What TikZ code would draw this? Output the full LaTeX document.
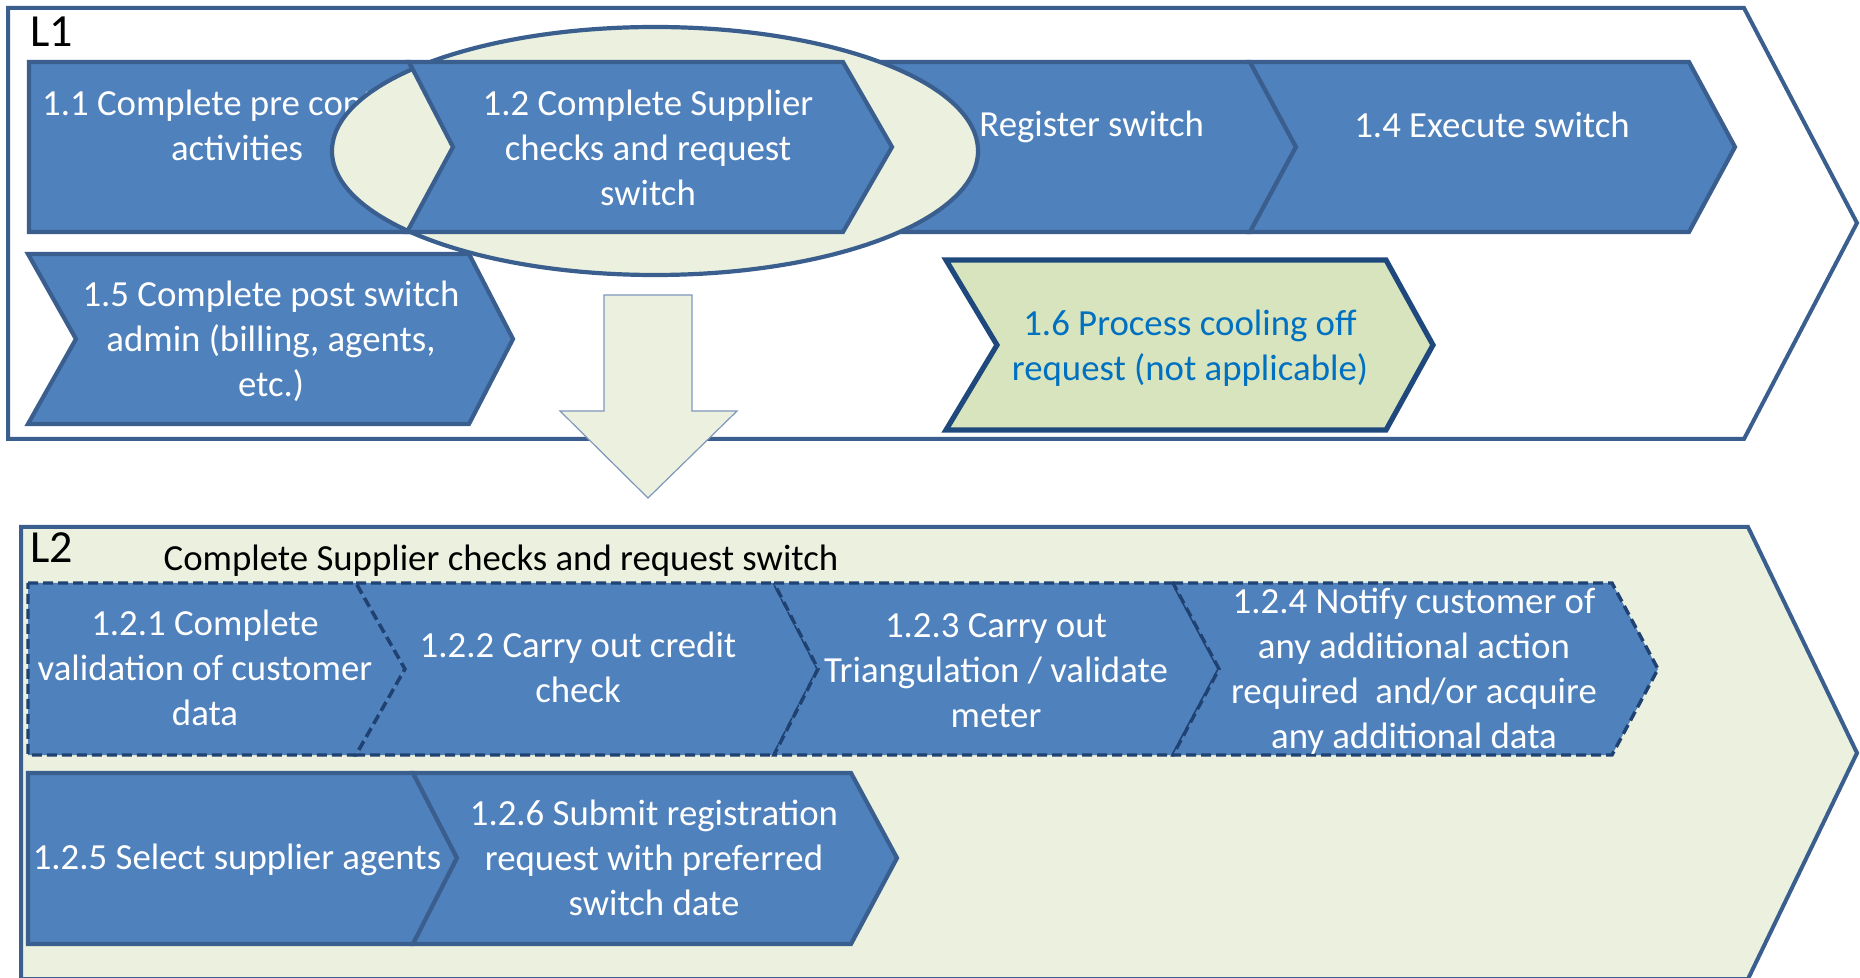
\documentclass[tikz,border=0pt]{standalone}
\usepackage{fontspec}
\setmainfont{Carlito}
\definecolor{blueFill}{HTML}{4F81BD}
\definecolor{blueLine}{HTML}{3A5F8E}
\definecolor{paleGreen}{HTML}{EBF1DE}
\definecolor{greenFill}{HTML}{D7E4BD}
\definecolor{navy}{HTML}{1F497D}
\definecolor{dashNavy}{HTML}{1F4272}
\definecolor{textBlue}{HTML}{0070C0}
\definecolor{arrowLine}{HTML}{7F97BD}
\newcommand\fl{\rule{0pt}{14.7pt}}
\begin{document}
\begin{tikzpicture}[x=0.5pt,y=-0.5pt,
  chev/.style={fill=blueFill, draw=blueLine, line width=2.1pt, line join=miter},
  dchev/.style={fill=blueFill, draw=dashNavy, line width=1.7pt, dash pattern=on 5pt off 2.5pt},
  frame/.style={draw=blueLine, line width=2pt, line join=miter},
  lbl/.style={anchor=north, inner sep=0pt, align=center, text=white, font=\fontsize{18.4}{22.5}\selectfont},
  level/.style={anchor=base west, inner sep=0pt, text=black, font=\fontsize{23}{28}\selectfont},
]
\useasboundingbox (0,0) rectangle (1860,978);
\fill[white] (0,0) rectangle (1860,978);

% ---------- L1 frame ----------
\draw[frame, fill=white] (8,8) -- (1744,8) -- (1857,223) -- (1744,439) -- (8,439) -- cycle;
\node[level] (L1) at (30,47) {L1};

% ---------- L2 frame ----------
\draw[frame, fill=paleGreen] (21,527) -- (1748,527) -- (1857,753) -- (1748,979) -- (21,979) -- cycle;
\node[level] (L2) at (30,563) {L2};
\node[anchor=base, inner sep=0pt, font=\fontsize{18.4}{22.5}\selectfont] (head) at (501,571) {Complete Supplier checks and request switch};

% ---------- L1 row 1 (behind ellipse) ----------
\draw[chev] (29,62) -- (409,62) -- (453,147) -- (409,232) -- (29,232) -- cycle;
\node[lbl] (t11) at (237,85.6) {\fl 1.1 Complete pre contract\\activities};
\draw[chev] (843,62) -- (1250,62) -- (1296,147) -- (1250,232) -- (843,232) -- (892,147) -- cycle;
\node[anchor=base west, inner sep=0pt, text=white, font=\fontsize{18.4}{22.5}\selectfont] (t13) at (979,137) {Register switch};
\draw[chev] (1250,62) -- (1689,62) -- (1735,147) -- (1689,232) -- (1250,232) -- (1296,147) -- cycle;
\node[lbl] (t14) at (1492,107.6) {\fl 1.4 Execute switch};

% ---------- L1 row 2 ----------
\draw[chev] (28,254) -- (469,254) -- (513,339) -- (469,424) -- (28,424) -- (76,339) -- cycle;
\node[lbl] (t15) at (271,276.6) {\fl 1.5 Complete post switch\\admin (billing, agents,\\etc.)};
\draw[fill=greenFill, draw=navy, line width=2.6pt, line join=miter] (946,260) -- (1386,260) -- (1433,345) -- (1386,430) -- (946,430) -- (997,345) -- cycle;
\node[lbl, text=textBlue] (t16) at (1190,305.6) {\fl 1.6 Process cooling off\\request (not applicable)};

% ---------- highlight ellipse and 1.2 ----------
\draw[fill=paleGreen, draw=blueLine, line width=2.1pt] (655,151) ellipse [x radius=323, y radius=124];
\draw[chev] (409,62) -- (843,62) -- (892,147) -- (843,232) -- (407,232) -- (453,147) -- cycle;
\node[lbl] (t12) at (648,85.6) {\fl 1.2 Complete Supplier\\checks and request\\switch};

% ---------- down arrow ----------
\draw[fill=paleGreen, draw=arrowLine, line width=0.6pt, line join=miter] (604,295) -- (692,295) -- (692,411) -- (737,411) -- (648,498) -- (560,411) -- (604,411) -- cycle;

% ---------- L2 dashed row ----------
\draw[dchev] (28,583) -- (356,583) -- (405,669) -- (356,755) -- (28,755) -- cycle;
\draw[dchev] (356,583) -- (774,583) -- (818,669) -- (774,755) -- (356,755) -- (405,669) -- cycle;
\draw[dchev] (774,583) -- (1173,583) -- (1219,669) -- (1173,755) -- (774,755) -- (818,669) -- cycle;
\draw[dchev] (1173,583) -- (1612,583) -- (1658,669) -- (1612,755) -- (1173,755) -- (1219,669) -- cycle;
\node[lbl] (t121) at (205,605.6) {\fl 1.2.1 Complete\\validation of customer\\data};
\node[lbl] (t122) at (578,627.6) {\fl 1.2.2 Carry out credit\\check};
\node[lbl] (t123) at (996,607.6) {\fl 1.2.3 Carry out\\Triangulation / validate\\meter};
\node[lbl] (t124) at (1414,583.6) {\fl 1.2.4 Notify customer of\\any additional action\\required\ \ and/or acquire\\any additional data};

% ---------- L2 solid row ----------
\draw[chev] (28,773) -- (413,773) -- (457,858) -- (413,944) -- (28,944) -- cycle;
\draw[chev] (413,773) -- (851,773) -- (897,858) -- (851,944) -- (413,944) -- (457,858) -- cycle;
\node[lbl] (t125) at (237,839.6) {\fl 1.2.5 Select supplier agents};
\node[lbl] (t126) at (654,795.6) {\fl 1.2.6 Submit registration\\request with preferred\\switch date};
\end{tikzpicture}
\end{document}
